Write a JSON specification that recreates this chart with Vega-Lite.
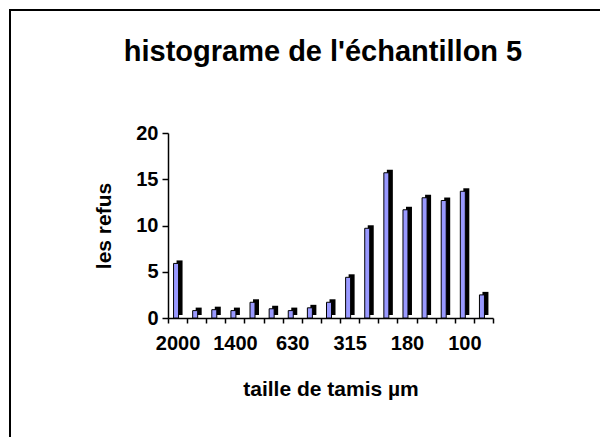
{
  "$schema": "https://vega.github.io/schema/vega-lite/v6.json",
  "width": 600,
  "height": 437,
  "autosize": {"type": "none"},
  "padding": {"left": 10, "top": 10, "right": 0, "bottom": 0},
  "background": "white",
  "title": {
    "text": "histograme de l'échantillon 5",
    "font": "Liberation Sans",
    "fontSize": 29,
    "fontWeight": "bold",
    "color": "black",
    "anchor": "middle",
    "frame": "group",
    "dx": 13,
    "dy": 61
  },
  "config": {
    "view": {"stroke": "black", "strokeWidth": 2},
    "axis": {
      "labelFont": "Liberation Sans",
      "labelFontWeight": "bold",
      "labelFontSize": 20,
      "labelColor": "black",
      "titleFont": "Liberation Sans",
      "titleFontWeight": "bold",
      "titleFontSize": 21,
      "titleColor": "black",
      "domainColor": "black",
      "domainWidth": 1.5,
      "tickColor": "black",
      "tickWidth": 1.5,
      "grid": false
    }
  },
  "data": {
    "values": [
      {"tamis": "2000", "refus": 5.9},
      {"tamis": "1800", "refus": 0.8},
      {"tamis": "1600", "refus": 0.9},
      {"tamis": "1400", "refus": 0.8},
      {"tamis": "1000", "refus": 1.7},
      {"tamis": "800", "refus": 1.0},
      {"tamis": "630", "refus": 0.8},
      {"tamis": "500", "refus": 1.1},
      {"tamis": "400", "refus": 1.7},
      {"tamis": "315", "refus": 4.4},
      {"tamis": "250", "refus": 9.7},
      {"tamis": "200", "refus": 15.7},
      {"tamis": "180", "refus": 11.7},
      {"tamis": "160", "refus": 13.0},
      {"tamis": "125", "refus": 12.7},
      {"tamis": "100", "refus": 13.7},
      {"tamis": "80", "refus": 2.5}
    ]
  },
  "encoding": {
    "x": {
      "field": "tamis",
      "type": "nominal",
      "sort": null,
      "scale": {"range": [158, 483], "paddingInner": 0, "paddingOuter": 0},
      "axis": {
        "title": "taille de tamis µm",
        "labelAngle": 0,
        "offset": -129,
        "tickBand": "extent",
        "tickSize": 5,
        "labelPadding": 10,
        "titlePadding": 25,
        "labelExpr": "indexof(['2000','1400','630','315','180','100'], datum.label) >= 0 ? datum.label : ''"
      }
    },
    "y": {
      "field": "refus",
      "type": "quantitative",
      "scale": {"domain": [0, 20], "range": [308, 123], "nice": false},
      "axis": {
        "title": "les refus",
        "offset": -158,
        "values": [0, 5, 10, 15, 20],
        "tickSize": 6,
        "labelPadding": 4,
        "titlePadding": 21
      }
    }
  },
  "layer": [
    {
      "mark": {"type": "bar", "color": "black", "size": 6, "xOffset": 2, "yOffset": -3, "y2Offset": 0}
    },
    {
      "mark": {"type": "bar", "fill": "#9999ff", "stroke": "black", "strokeWidth": 1, "size": 5, "xOffset": -1.5}
    }
  ]
}
